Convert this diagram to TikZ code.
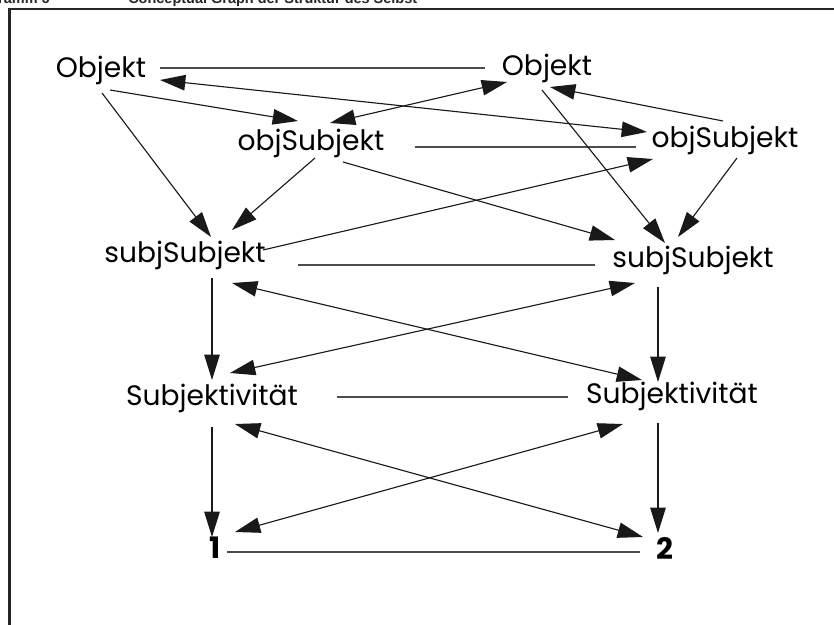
\documentclass[tikz,border=0pt]{standalone}
\usepackage{fontspec}
\setmainfont{Poppins}
\newfontfamily\titlefont{Liberation Sans}
\usetikzlibrary{arrows.meta,calc}

\begin{document}
\begin{tikzpicture}[
    x=0.025cm, y=-0.025cm,
    concept/.style={anchor=base, inner sep=0pt, font=\fontsize{20}{24}\selectfont},
    num/.style={anchor=base, inner sep=0pt, font=\fontsize{21}{24}\selectfont\bfseries},
    arr/.style={-{Triangle[length=18pt, width=11pt]}, line width=0.8pt, black!90},
    both/.style={{Triangle[length=18pt, width=11pt]}-{Triangle[length=18pt, width=11pt]}, line width=0.8pt, black!90},
    link/.style={line width=0.8pt, black!70},
    heading/.style={font=\titlefont\bfseries\fontsize{10.3}{12}\selectfont, black!85, inner sep=0pt}
]
    \useasboundingbox (0,0) rectangle (834,624);

    % frame and heading (cut at the top)
    \draw[line width=1.8pt, black!85] (9.5,650) -- (9.5,9) -- (860,9);
    \node[heading, anchor=base east] (nr) at (50,4) {Diagramm 6};
    \node[heading, anchor=base west] (title) at (128,4) {Conceptual Graph der Struktur des Selbst};

    \node[concept] (oL) at (101,77) {Objekt};
    \node[concept] (oR) at (547,76) {Objekt};
    \node[concept] (osL) at (311,150) {objSubjekt};
    \node[concept] (osR) at (725,147) {objSubjekt};
    \node[concept] (ssL) at (185,262) {subjSubjekt};
    \node[concept] (ssR) at (693,267) {subjSubjekt};
    \node[concept] (sL) at (212,405) {Subjektivität};
    \node[concept] (sR) at (672,403) {Subjektivität};
    \node[num] (n1) at (215,558) {1};
    \node[num] (n2) at (665,559) {2};

    % horizontal links
    \draw[link] ($(oL.base)+(59,-9)$) -- ($(oR.base)+(-62,-8)$);
    \draw[link] ($(osL.base)+(104,-3)$) -- ($(osR.base)+(-89,0)$);
    \draw[link] ($(ssL.base)+(113,3)$) -- ($(ssR.base)+(-98,-2)$);
    \draw[link] ($(sL.base)+(125,-8)$) -- ($(sR.base)+(-104,-6)$);
    \draw[link] ($(n1.base)+(12,-6)$) -- ($(n2.base)+(-25,-7)$);

    % top level
    \draw[arr] ($(oL.base)+(9,13)$) -- ($(osL.base)+(-13,-29)$);
    \draw[arr] ($(oL.base)+(1,16)$) -- ($(ssL.base)+(26,-25)$);
    \draw[arr] ($(osL.base)+(4,8)$) -- ($(ssL.base)+(47,-32)$);
    \draw[both] ($(oL.base)+(59,3)$) -- ($(osR.base)+(-78,-15)$);
    \draw[both] ($(osL.base)+(19,-27)$) -- ($(oR.base)+(-40,6)$);
    \draw[arr] ($(oR.base)+(-5,14)$) -- ($(ssR.base)+(-28,-24)$);
    \draw[arr] ($(osR.base)+(12,11)$) -- ($(ssR.base)+(-15,-30)$);
    \draw[arr] ($(osR.base)+(-2,-26)$) -- ($(oR.base)+(3,11)$);
    \draw[arr] ($(osL.base)+(32,12)$) -- ($(ssR.base)+(-78,-27)$);
    \draw[arr] ($(ssL.base)+(78,-12)$) -- ($(osR.base)+(-72,12)$);

    % middle level
    \draw[arr] ($(ssL.base)+(27,16)$) -- ($(sL.base)+(0,-25)$);
    \draw[both] ($(ssL.base)+(47,21)$) -- ($(sR.base)+(-30,-23)$);
    \draw[both] ($(ssR.base)+(-58,16)$) -- ($(sL.base)+(18,-32)$);
    \draw[arr] ($(ssR.base)+(-35,20)$) -- ($(sR.base)+(-14,-21)$);

    % bottom level
    \draw[arr] ($(sL.base)+(0,22)$) -- ($(n1.base)+(-3,-21)$);
    \draw[arr] ($(sR.base)+(-14,20)$) -- ($(n2.base)+(-7,-26)$);
    \draw[both] ($(sL.base)+(23,19)$) -- ($(n2.base)+(-22,-22)$);
    \draw[both] ($(sR.base)+(-49,21)$) -- ($(n1.base)+(20,-26)$);
\end{tikzpicture}
\end{document}
